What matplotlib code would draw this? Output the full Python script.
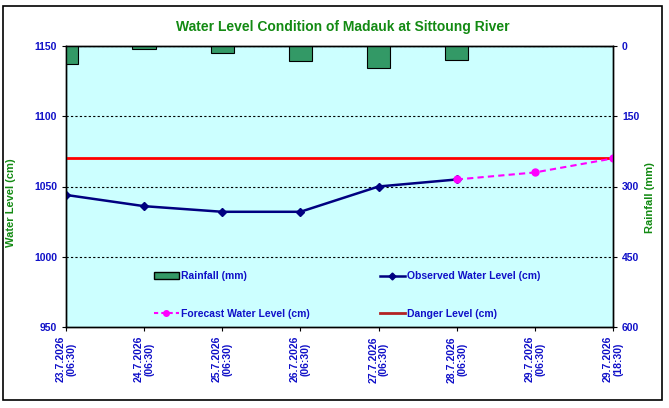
import matplotlib
matplotlib.use("Agg")
import matplotlib.pyplot as plt
from matplotlib.patches import Patch, Rectangle
from matplotlib.lines import Line2D
import numpy as np

plt.rcParams['font.family'] = ['Liberation Sans', 'DejaVu Sans']

dates = ["23.7.2026\n(06:30)", "24.7.2026\n(06:30)", "25.7.2026\n(06:30)",
         "26.7.2026\n(06:30)", "27.7.2026\n(06:30)", "28.7.2026\n(06:30)",
         "29.7.2026\n(06:30)", "29.7.2026\n(18:30)"]
rainfall = [38, 6, 16, 31, 46, 29, 0, 0]
observed = [1044, 1036, 1032, 1032, 1050, 1055]
forecast_idx = [5, 6, 7]
forecast = [1055, 1060, 1070]
danger_level = 1070

blue = "#1010C8"
green = "#138A13"

fig = plt.figure(figsize=(6.69, 4.08), dpi=100)
fig.patch.set_facecolor("white")
fig.patches.append(Rectangle((0.005, 0.02), 0.985, 0.965, transform=fig.transFigure,
                             fill=False, edgecolor="black", linewidth=1.2))

ax = fig.add_axes([66 / 669, 1 - 327 / 408, 547 / 669, 281 / 408])
ax.set_facecolor("#CCFFFF")
x = np.arange(len(dates))

ax.set_xlim(0, len(dates) - 1)
ax.set_ylim(950, 1150)
ax.set_yticks([950, 1000, 1050, 1100, 1150])
for yv in [1000, 1050, 1100, 1150]:
    ax.axhline(yv, color="black", linestyle=(0, (2, 2)), linewidth=0.8, zorder=1)

ax.axhline(danger_level, color="#FF0000", linewidth=2, zorder=3)
ax.plot(x[:len(observed)], observed, color="#000080", marker="D", markersize=4,
        linewidth=1.8, zorder=4)
ax.plot(forecast_idx, forecast, color="#FF00FF", marker="o", markersize=5,
        linewidth=1.5, linestyle=(0, (3, 2)), zorder=4)

ax2 = ax.twinx()
ax2.set_ylim(600, 0)
ax2.set_yticks([0, 150, 300, 450, 600])
ax2.bar(x, rainfall, width=0.3, color="#339966", edgecolor="black", linewidth=0.8,
        align="center", clip_on=True)
ax2.set_xlim(0, len(dates) - 1)

ax.set_xticks(x)
ax.set_xticklabels(dates, rotation=90, ha="center", va="top", linespacing=1.1)
for a in (ax, ax2):
    a.tick_params(labelsize=7.5, labelcolor=blue, length=3, width=0.8)
    for lbl in a.get_xticklabels() + a.get_yticklabels():
        lbl.set_fontweight("bold")
    for s in a.spines.values():
        s.set_linewidth(1.0)

ax.set_ylabel("Water Level (cm)", color=green, fontsize=8, fontweight="bold")
ax.yaxis.set_label_coords(-0.091, 0.441)
ax2.set_ylabel("Rainfall (mm)", color=green, fontsize=8, fontweight="bold")
ax2.yaxis.set_label_coords(1.0585, 0.461)

fig.text(0.513, 0.933, "Water Level Condition of Madauk at Sittoung River",
         ha="center", va="center", color=green, fontsize=10, fontweight="bold")

handles = [Patch(facecolor="#339966", edgecolor="black", label="Rainfall (mm)"),
           Line2D([], [], color="#FF00FF", marker="o", markersize=4, linestyle=(0, (2, 1.5)),
                  linewidth=1.5, label="Forecast Water Level (cm)"),
           Line2D([], [], color="#000080", marker="D", markersize=3.5, linewidth=1.8,
                  label="Observed Water Level (cm)"),
           Line2D([], [], color="#B22222", linewidth=2, label="Danger Level (cm)")]
leg = ax2.legend(handles=handles, ncol=2, loc="center", bbox_to_anchor=(0.5136, 0.114),
                 frameon=False, fontsize=7.5, labelspacing=2.6, columnspacing=6.75,
                 handlelength=2.4, handletextpad=0.2)
for t in leg.get_texts():
    t.set_color(blue)
    t.set_fontweight("bold")

fig.savefig("out.png", dpi=100)
